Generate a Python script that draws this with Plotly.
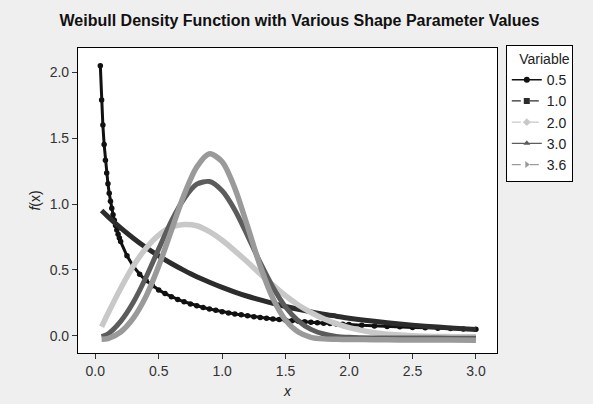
import plotly.graph_objects as go

# ---- data ----
x_half = [0.04, 0.05, 0.06, 0.07, 0.08, 0.09, 0.10, 0.11, 0.12, 0.13, 0.14, 0.15, 0.16,
          0.17, 0.18, 0.19, 0.20, 0.25, 0.30, 0.35, 0.40, 0.45, 0.50, 0.55, 0.60, 0.65,
          0.70, 0.75, 0.80, 0.85, 0.90, 0.95, 1.00, 1.05, 1.10, 1.15, 1.20, 1.25, 1.30,
          1.35, 1.40, 1.45, 1.50, 1.55, 1.60, 1.65, 1.70, 1.75, 1.80, 1.85, 1.90, 1.95,
          2.00, 2.10, 2.20, 2.30, 2.40, 2.50, 2.60, 2.70, 2.80, 2.90, 3.00]
y_05 = [2.047, 1.788, 1.598, 1.450, 1.332, 1.235, 1.153, 1.082, 1.021, 0.967, 0.919, 0.876,
        0.838, 0.803, 0.771, 0.742, 0.715, 0.607, 0.528, 0.468, 0.420, 0.381, 0.349, 0.321,
        0.298, 0.277, 0.259, 0.243, 0.229, 0.216, 0.204, 0.194, 0.184, 0.175, 0.167, 0.160,
        0.153, 0.146, 0.140, 0.135, 0.129, 0.125, 0.120, 0.116, 0.112, 0.108, 0.104, 0.101,
        0.097, 0.094, 0.091, 0.089, 0.086, 0.081, 0.076, 0.072, 0.069, 0.065, 0.062, 0.059,
        0.056, 0.053, 0.051]

x_grid = [0.05, 0.1, 0.2, 0.3, 0.4, 0.5, 0.6, 0.7, 0.8, 0.9, 1.0, 1.1, 1.2, 1.3, 1.4,
          1.5, 1.6, 1.7, 1.8, 1.9, 2.0, 2.2, 2.4, 2.6, 2.8, 3.0]
y_10 = [0.951, 0.905, 0.819, 0.741, 0.670, 0.607, 0.549, 0.497, 0.449, 0.407, 0.368, 0.333,
        0.301, 0.273, 0.247, 0.223, 0.202, 0.183, 0.165, 0.150, 0.135, 0.111, 0.091, 0.074,
        0.061, 0.050]
y_20 = [0.07, 0.17, 0.36, 0.53, 0.665, 0.765, 0.825, 0.845, 0.835, 0.79, 0.725, 0.645,
        0.56, 0.47, 0.385, 0.305, 0.235, 0.178, 0.13, 0.093, 0.063, 0.025, 0.007, -0.002,
        -0.005, -0.006]
y_30 = [-0.005, 0.015, 0.11, 0.255, 0.445, 0.66, 0.87, 1.04, 1.15, 1.17, 1.10, 0.955,
        0.76, 0.555, 0.37, 0.22, 0.115, 0.05, 0.015, -0.003, -0.01, -0.015, -0.015, -0.015,
        -0.017, -0.018]
y_36 = [-0.025, -0.02, 0.03, 0.135, 0.30, 0.53, 0.80, 1.07, 1.28, 1.38, 1.32, 1.12, 0.83,
        0.53, 0.285, 0.12, 0.03, -0.01, -0.022, -0.025, -0.027, -0.028, -0.03, -0.03, -0.03,
        -0.032]

names = ["0.5", "1.0", "2.0", "3.0", "3.6"]
colors = ["#111111", "#2c2c2c", "#c8c8c8", "#5c5c5c", "#9a9a9a"]
symbols = ["circle", "square", "diamond", "triangle-up", "triangle-right"]
dashes = ["solid", "dash", "dash", "solid", "dash"]
x_ticks = [0.0, 0.5, 1.0, 1.5, 2.0, 2.5, 3.0]
y_ticks = [0.0, 0.5, 1.0, 1.5, 2.0]

fig = go.Figure()

# curves in the plot
fig.add_trace(go.Scatter(x=x_half, y=y_05, mode="lines+markers", showlegend=False,
                         line=dict(color=colors[0], width=3),
                         marker=dict(symbol="circle", size=5.5, color=colors[0])))
for ys, col, w in [(y_10, colors[1], 5), (y_20, colors[2], 5.5), (y_30, colors[3], 5),
                   (y_36, colors[4], 5.5)]:
    fig.add_trace(go.Scatter(x=x_grid, y=ys, mode="lines", showlegend=False,
                             line=dict(color=col, width=w, shape="spline", smoothing=0.8)))

# legend entries
for n, c, s, d in zip(names, colors, symbols, dashes):
    fig.add_trace(go.Scatter(x=[None], y=[None], mode="lines+markers", name=n,
                             line=dict(color=c, width=1.3, dash=d),
                             marker=dict(symbol=s, size=6, color=c)))

axis_common = dict(showline=True, linecolor="black", linewidth=1.2, mirror=True,
                   showgrid=False, zeroline=False, ticks="outside", ticklen=5,
                   tickcolor="#333333", tickfont=dict(size=14, color="#333333"),
                   tickformat=".1f", automargin=False)

fig.update_layout(
    width=593, height=404,
    paper_bgcolor="#efefef", plot_bgcolor="white",
    font=dict(family="Liberation Sans, Arial, sans-serif", color="#222222"),
    margin=dict(l=78, r=96, t=48, b=51, autoexpand=False),
    title=dict(text="<b>Weibull Density Function with Various Shape Parameter Values</b>",
               x=0.505, xanchor="center", y=0.95, yanchor="middle",
               font=dict(size=16, color="#111111")),
    xaxis=dict(range=[-0.136, 3.166], tickvals=x_ticks,
               title=dict(text="<i>x</i>", font=dict(size=14), standoff=8), **axis_common),
    yaxis=dict(range=[-0.129, 2.182], tickvals=y_ticks,
               title=dict(text="<i>f</i>(x)", font=dict(size=14), standoff=5), **axis_common),
    legend=dict(x=1.021, xanchor="left", y=1.01, yanchor="top",
                bgcolor="white", bordercolor="black", borderwidth=1,
                font=dict(size=14, color="#222222"),
                title=dict(text="Variable", font=dict(size=14), side="top right"),
                itemwidth=30, tracegroupgap=0, entrywidth=88, entrywidthmode="pixels"),
)

fig.write_html("out.html", config={"displayModeBar": False},
               post_script="document.body.style.margin='0px';")
